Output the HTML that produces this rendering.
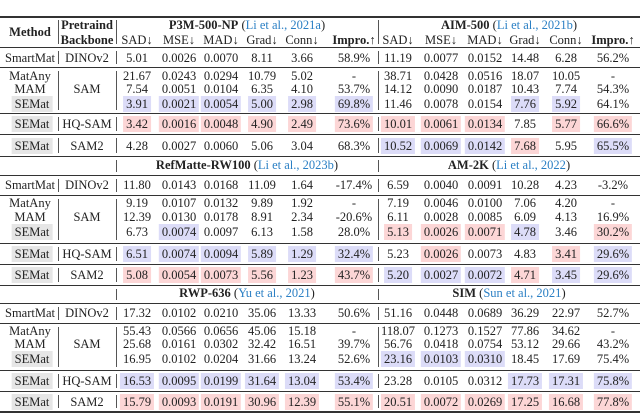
<!DOCTYPE html>
<html><head><meta charset="utf-8">
<style>
body{margin:0;width:640px;height:413px;overflow:hidden;background:#fff;font-family:"Liberation Serif",serif;color:#222;}
#t{position:relative;width:640px;height:413px;}
.c{position:absolute;transform:translate(-50%,-50%);white-space:nowrap;font-size:12.5px;line-height:14px;padding:1px 3px;}
.b{background:#dcdcf8;}
.r{background:#fcd6d6;}
.g{background:#e6e6e6;}
.bold{font-weight:bold;}
.cite{color:#2a7fc4;font-weight:normal;}
.h{position:absolute;left:0;width:640px;background:#333;}
.v{position:absolute;width:1px;background:#555;}
</style></head><body>
<div id="t"></div>
<script>
const colX=[137,179,221,262,302,354,398,441,485,525,566,613];
const metrics=["SAD↓","MSE↓","MAD↓","Grad↓","Conn↓","Impro.↑","SAD↓","MSE↓","MAD↓","Grad↓","Conn↓","Impro.↑"];
const headers=[
 {y:25,l:["P3M-500-NP","Li et al., 2021a"],r:["AIM-500","Li et al., 2021b"]},
 {y:165,l:["RefMatte-RW100","Li et al., 2023b"],r:["AM-2K","Li et al., 2022"]},
 {y:293,l:["RWP-636","Yu et al., 2021"],r:["SIM","Sun et al., 2021"]}
];
const rows=[
 {y:58,m:"SmartMat",bb:"DINOv2",v:["5.01","0.0026","0.0070","8.11","3.66","58.9%","11.19","0.0077","0.0152","14.48","6.28","56.2%"],h:"            "},
 {y:76,m:"MatAny",bb:"",v:["21.67","0.0243","0.0294","10.79","5.02","-","38.71","0.0428","0.0516","18.07","10.05","-"],h:"            "},
 {y:89,m:"MAM",bb:"SAM",v:["7.54","0.0051","0.0104","6.35","4.10","53.7%","14.12","0.0090","0.0187","10.43","7.74","54.3%"],h:"            "},
 {y:104,m:"SEMat",bb:"",v:["3.91","0.0021","0.0054","5.00","2.98","69.8%","11.46","0.0078","0.0154","7.76","5.92","64.1%"],h:"bbbbbb   bb "},
 {y:124,m:"SEMat",bb:"HQ-SAM",v:["3.42","0.0016","0.0048","4.90","2.49","73.6%","10.01","0.0061","0.0134","7.85","5.77","66.6%"],h:"rrrrrrrrr rr"},
 {y:146,m:"SEMat",bb:"SAM2",v:["4.28","0.0027","0.0060","5.06","3.04","68.3%","10.52","0.0069","0.0142","7.68","5.95","65.5%"],h:"      bbbr b"},
 {y:185,m:"SmartMat",bb:"DINOv2",v:["11.80","0.0143","0.0168","11.09","1.64","-17.4%","6.59","0.0040","0.0091","10.28","4.23","-3.2%"],h:"            "},
 {y:203,m:"MatAny",bb:"",v:["9.19","0.0107","0.0132","9.89","1.92","-","7.19","0.0046","0.0100","7.06","4.20","-"],h:"            "},
 {y:217,m:"MAM",bb:"SAM",v:["12.39","0.0130","0.0178","8.91","2.34","-20.6%","6.11","0.0028","0.0085","6.09","4.13","16.9%"],h:"            "},
 {y:232,m:"SEMat",bb:"",v:["6.73","0.0074","0.0097","6.13","1.58","28.0%","5.13","0.0026","0.0071","4.78","3.46","30.2%"],h:" b    rrrb r"},
 {y:254,m:"SEMat",bb:"HQ-SAM",v:["6.51","0.0074","0.0094","5.89","1.29","32.4%","5.23","0.0026","0.0073","4.83","3.41","29.6%"],h:"bbbbbb r  rb"},
 {y:275,m:"SEMat",bb:"SAM2",v:["5.08","0.0054","0.0073","5.56","1.23","43.7%","5.20","0.0027","0.0072","4.71","3.45","29.6%"],h:"rrrrrrbbbrbb"},
 {y:313,m:"SmartMat",bb:"DINOv2",v:["17.32","0.0102","0.0210","35.06","13.33","50.6%","51.16","0.0448","0.0689","36.29","22.97","52.7%"],h:"            "},
 {y:331,m:"MatAny",bb:"",v:["55.43","0.0566","0.0656","45.06","15.18","-","118.07","0.1273","0.1527","77.86","34.62","-"],h:"            "},
 {y:344,m:"MAM",bb:"SAM",v:["25.68","0.0161","0.0302","32.42","16.51","39.7%","56.76","0.0418","0.0754","53.12","29.66","43.2%"],h:"            "},
 {y:359,m:"SEMat",bb:"",v:["16.95","0.0102","0.0204","31.66","13.24","52.6%","23.16","0.0103","0.0310","18.45","17.69","75.4%"],h:"      bbb   "},
 {y:381,m:"SEMat",bb:"HQ-SAM",v:["16.53","0.0095","0.0199","31.64","13.04","53.4%","23.28","0.0105","0.0312","17.73","17.31","75.8%"],h:"bbbbbb   bbb"},
 {y:402,m:"SEMat",bb:"SAM2",v:["15.79","0.0093","0.0191","30.96","12.39","55.1%","20.51","0.0072","0.0269","17.25","16.68","77.8%"],h:"rrrrrrrrrrrr"}
];
const hlines=[[16,1.5],[47,1],[67,1],[113,1],[134,1],[156,1],[175,1],[195,1],[243,1],[264,1],[285,1],[303,1],[323,1],[370,1],[391,1],[411,1.6]];
const T=document.getElementById('t');
function cell(x,y,html,cls){const d=document.createElement('div');d.className='c '+(cls||'');d.style.left=x+'px';d.style.top=y+'px';d.innerHTML=html;T.appendChild(d);return d;}
hlines.forEach(([y,w])=>{const d=document.createElement('div');d.className='h';d.style.top=y+'px';d.style.height=w+'px';


T.appendChild(d);});
function vline(x,y1,y2){const d=document.createElement('div');d.className='v';d.style.left=x+'px';d.style.top=y1+'px';d.style.height=(y2-y1)+'px';


T.appendChild(d);}
// vertical separators per segment
const segs=[[17,47,true],[48,67,true],[68,113,true],[114,134,true],[135,156,true],[157,175,false],[176,195,true],[196,243,true],[244,264,true],[265,285,true],[286,303,false],[304,323,true],[324,370,true],[371,391,true],[392,411,true]];
segs.forEach(([a,b,m])=>{const p=3;if(m)vline(58,a+p,b-p);vline(116,a+p,b-p);vline(378,a+p,b-p);});
// top header
let e;
e=cell(30,32,"Method","bold");


e=cell(87,25,"Pretraind","bold");


e=cell(87,40,"Backbone","bold");


metrics.forEach((m,i)=>{const d=cell(colX[i],40,m,i%6==5?'bold':'');

});
headers.forEach(h=>{
 const a=cell(247,h.y,'<b>'+h.l[0]+'</b> (<span class="cite">'+h.l[1]+'</span>)');
 
 
 const b=cell(509,h.y,'<b>'+h.r[0]+'</b> (<span class="cite">'+h.r[1]+'</span>)');
 
 
});
rows.forEach(r=>{
 const m=cell(r.m=="SEMat"?32:30,r.y,r.m,r.m=="SEMat"?'g':'');
 
 
 if(r.bb){const bb=cell(87,r.bb=="SAM"?r.y:r.y,r.bb);
 
 }
 r.v.forEach((v,i)=>{const c=r.h[i];const d=cell(colX[i],r.y,v,c=='b'?'b':c=='r'?'r':'');
 
 });
});
</script>
</body></html>
